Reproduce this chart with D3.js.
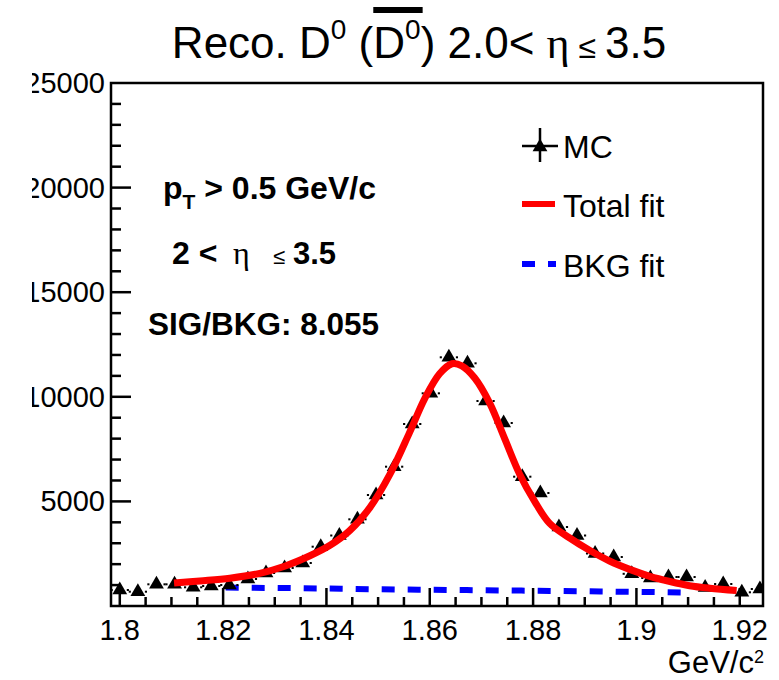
<!DOCTYPE html>
<html>
<head>
<meta charset="utf-8">
<script src="https://cdn.jsdelivr.net/npm/d3@7/dist/d3.min.js"></script>
<style>
  html, body { margin: 0; padding: 0; background: #fff; }
  svg { display: block; }
  text { white-space: pre; }
</style>
</head>
<body>
<svg id="chart" width="779" height="680"></svg>
<script>
// ---------------- data ----------------
const massBins = [1.8000, 1.8035, 1.8071, 1.8106, 1.8142, 1.8177, 1.8212, 1.8248, 1.8283, 1.8319,
                  1.8354, 1.8389, 1.8425, 1.8460, 1.8496, 1.8531, 1.8566, 1.8602, 1.8637, 1.8673,
                  1.8708, 1.8743, 1.8779, 1.8814, 1.8850, 1.8885, 1.8920, 1.8956, 1.8991, 1.9027,
                  1.9062, 1.9097, 1.9133, 1.9168, 1.9204, 1.9239];
const mcCounts = [765, 684, 1037, 1037, 894, 956, 1004, 1291, 1577, 1816,
                  2055, 2835, 3370, 4144, 5306, 6659, 8700, 10167, 11888, 11601,
                  9799, 8748, 6181, 5402, 3776, 3370, 2510, 2342, 1539, 1338,
                  1386, 1386, 884, 1052, 655, 813];
const fitMass  = [1.8105, 1.8155, 1.8213, 1.8271, 1.8319, 1.8368, 1.8407, 1.8445, 1.8484, 1.8523,
                  1.8561, 1.8590, 1.8619, 1.8643, 1.8662, 1.8687, 1.8716, 1.8745, 1.8774, 1.8803,
                  1.8832, 1.8871, 1.8910, 1.8948, 1.8987, 1.9026, 1.9065, 1.9103, 1.9142, 1.9194];
const fitTotal = [1100, 1200, 1330, 1560, 1900, 2400, 2900, 3600, 4700, 6300,
                  8300, 9900, 11100, 11580, 11480, 10900, 9700, 8000, 6300, 5000,
                  3950, 3250, 2650, 2150, 1750, 1420, 1170, 970, 850, 740];
const bkgMass   = [1.8205, 1.835, 1.850, 1.865, 1.880, 1.895, 1.9105];
const bkgValues = [880, 850, 800, 765, 730, 690, 640];

const xTickValues = [1.80, 1.82, 1.84, 1.86, 1.88, 1.90, 1.92];
const xTickLabels = ["1.8", "1.82", "1.84", "1.86", "1.88", "1.9", "1.92"];
const yTickValues = [5000, 10000, 15000, 20000, 25000];
const yTickLabels = ["5000", "10000", "15000", "20000", "25000"];

const legendLabels = ["MC", "Total fit", "BKG fit"];

// ---------------- layout ----------------
const FONT = "'Liberation Sans', Arial, Helvetica, sans-serif";
const SERIF = "'Liberation Serif', 'Times New Roman', serif";
const svg = d3.select("#chart");
const L = 111, R = 763, T = 83, B = 606;

const x = d3.scaleLinear().domain([1.7983, 1.9245]).range([L, R]);
const y = d3.scaleLinear().domain([0, 25000]).range([B, T]);

function richText(parent, px, py, segs, anchor) {
  const g = parent.append("g");
  let cx = 0; const pos = [];
  segs.forEach(s => {
    if (s.at !== undefined) cx = s.at;
    const t = g.append("text")
      .attr("x", cx).attr("y", s.dy || 0)
      .style("font-family", s.family || FONT)
      .style("font-size", s.size + "px")
      .style("font-weight", s.weight || "normal")
      .attr("fill", "#000")
      .text(s.text);
    const w = t.node().getComputedTextLength();
    pos.push({ x: cx, w: w });
    cx += w;
  });
  const ox = anchor === "middle" ? px - cx / 2 : anchor === "end" ? px - cx : px;
  g.attr("transform", `translate(${ox},${py})`);
  return { g, pos, total: cx, ox };
}

// ---------------- title ----------------
const TS = 44, TSUP = 28;
const title = richText(svg, 419, 58, [
  { text: "Reco. D", size: TS },
  { text: "0", size: TSUP, dy: -19 },
  { text: " (", size: TS },
  { text: "D", size: TS },
  { text: "0", size: TSUP, dy: -19 },
  { text: ") 2.0< ", size: TS },
  { text: "η", size: TS, family: SERIF },
  { text: " ≤ ", size: 32 },
  { text: "3.5", size: TS }
], "middle");
{
  const p0 = title.pos[3], p1 = title.pos[4];
  title.g.append("rect")
    .attr("x", p0.x).attr("y", -51)
    .attr("width", p1.x + p1.w - p0.x + 2).attr("height", 6)
    .attr("fill", "#000");
}

// ---------------- data marks ----------------
const plot = svg.append("g");
const clip = svg.append("clipPath").attr("id", "plotclip");
clip.append("rect").attr("x", L).attr("y", T).attr("width", R - L).attr("height", B - T);
plot.attr("clip-path", "url(#plotclip)");

// BKG fit (dashed blue)
plot.append("path")
  .datum(bkgMass.map((m, i) => [m, bkgValues[i]]))
  .attr("d", d3.line().x(d => x(d[0])).y(d => y(d[1])).curve(d3.curveMonotoneX))
  .attr("fill", "none").attr("stroke", "#0000ff").attr("stroke-width", 6)
  .attr("stroke-dasharray", "13,13");

// error bar ends (horizontal, gap around marker)
const halfBin = 0.00177;
const pts = massBins.map((m, i) => ({ m, v: mcCounts[i] }));
const eb = plot.append("g").attr("stroke", "#000").attr("stroke-width", 2);
pts.forEach(d => {
  const cx = x(d.m), cy = y(d.v);
  const hw = x(d.m + halfBin) - cx;
  eb.append("line").attr("x1", cx - hw).attr("x2", cx - 7).attr("y1", cy).attr("y2", cy);
  eb.append("line").attr("x1", cx + 7).attr("x2", cx + hw).attr("y1", cy).attr("y2", cy);
});

// markers
plot.append("g").selectAll("path").data(pts).join("path")
  .attr("d", d3.symbol().type(d3.symbolTriangle).size(95))
  .attr("transform", d => `translate(${x(d.m)},${y(d.v)})`)
  .attr("fill", "#000");

// total fit (red)
plot.append("path")
  .datum(fitMass.map((m, i) => [m, fitTotal[i]]))
  .attr("d", d3.line().x(d => x(d[0])).y(d => y(d[1])).curve(d3.curveCatmullRom))
  .attr("fill", "none").attr("stroke", "#ff0000").attr("stroke-width", 7)
  .attr("stroke-linejoin", "round");

// ---------------- frame & axes ----------------
svg.append("rect").attr("x", L).attr("y", T).attr("width", R - L).attr("height", B - T)
  .attr("fill", "none").attr("stroke", "#000").attr("stroke-width", 2.5);

const ax = svg.append("g").attr("stroke", "#000").attr("stroke-width", 2.5);
// x ticks
const xMinor = d3.range(0, 25).map(k => +(1.80 + k * 0.005).toFixed(3));
xMinor.forEach(v => {
  const major = xTickValues.some(t => Math.abs(t - v) < 1e-6);
  ax.append("line").attr("x1", x(v)).attr("x2", x(v))
    .attr("y1", B).attr("y2", B - (major ? 18 : 9));
});
// y ticks
d3.range(1000, 25000, 1000).forEach(v => {
  const major = v % 5000 === 0;
  ax.append("line").attr("x1", L).attr("x2", L + (major ? 20 : 10))
    .attr("y1", y(v)).attr("y2", y(v));
});

// x tick labels
svg.append("g").selectAll("text").data(xTickValues).join("text")
  .attr("x", d => x(d)).attr("y", 640)
  .attr("text-anchor", "middle")
  .style("font-family", FONT).style("font-size", "29px")
  .text((d, i) => xTickLabels[i]);

// y tick labels (clipped at left like the reference)
const ylClip = svg.append("clipPath").attr("id", "ylclip");
ylClip.append("rect").attr("x", 32).attr("y", 0).attr("width", 80).attr("height", 680);
svg.append("g").attr("clip-path", "url(#ylclip)")
  .selectAll("text").data(yTickValues).join("text")
  .attr("x", 105).attr("y", d => y(d) + 10)
  .attr("text-anchor", "end")
  .style("font-family", FONT).style("font-size", "29px")
  .text((d, i) => yTickLabels[i]);

// axis title
richText(svg, 764, 673, [
  { text: "GeV/c", size: 31 },
  { text: "2", size: 18, dy: -10 }
], "end");

// ---------------- annotations ----------------
richText(svg, 163, 199, [
  { text: "p", size: 32, weight: "bold" },
  { text: "T", size: 21, weight: "bold", dy: 10 },
  { text: " > 0.5 GeV/c", size: 32, weight: "bold" }
], "start");
richText(svg, 172, 264, [
  { text: "2 <", size: 32, weight: "bold", at: 0 },
  { text: "η", size: 32, family: SERIF, at: 61 },
  { text: "≤", size: 22, at: 101 },
  { text: "3.5", size: 31, weight: "bold", at: 121 }
], "start");
richText(svg, 148, 335, [
  { text: "SIG/BKG: 8.055", size: 31.5, weight: "bold" }
], "start");

// ---------------- legend ----------------
const lg = svg.append("g");
// MC entry
lg.append("line").attr("x1", 522).attr("x2", 558).attr("y1", 146).attr("y2", 146)
  .attr("stroke", "#000").attr("stroke-width", 2.5);
lg.append("line").attr("x1", 540).attr("x2", 540).attr("y1", 128).attr("y2", 162)
  .attr("stroke", "#000").attr("stroke-width", 2.5);
lg.append("path").attr("d", d3.symbol().type(d3.symbolTriangle).size(95)())
  .attr("transform", "translate(540,147)").attr("fill", "#000");
// Total fit entry
lg.append("line").attr("x1", 522).attr("x2", 555).attr("y1", 204).attr("y2", 204)
  .attr("stroke", "#ff0000").attr("stroke-width", 6);
// BKG fit entry
lg.append("line").attr("x1", 522).attr("x2", 556).attr("y1", 264).attr("y2", 264)
  .attr("stroke", "#0000ff").attr("stroke-width", 6).attr("stroke-dasharray", "13,13");

lg.selectAll("text").data(legendLabels).join("text")
  .attr("x", 563).attr("y", (d, i) => [158, 217, 277][i])
  .style("font-family", FONT).style("font-size", "32px")
  .text(d => d);
</script>
</body>
</html>
